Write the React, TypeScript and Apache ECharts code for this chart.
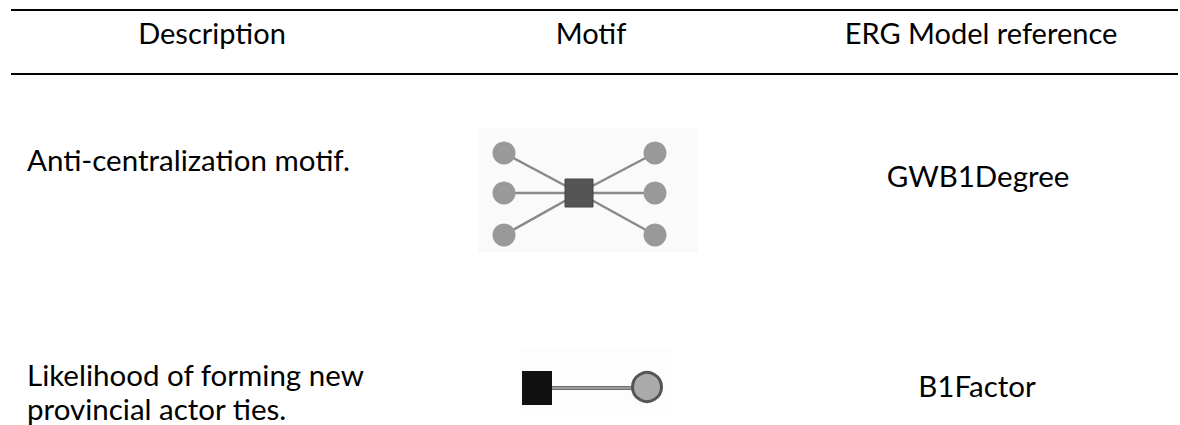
import React, { useEffect, useRef } from "react";
import * as echarts from "echarts";

const headers = ["Description", "Motif", "ERG Model reference"];
const descriptions = [["Anti-centralization motif."], ["Likelihood of forming new", "provincial actor ties."]];
const references = ["GWB1Degree", "B1Factor"];
const starLeavesPerSide = [3, 3];

const FONT = "Lato";
const FS = 29.5;

export default function App() {
  const ref = useRef<HTMLDivElement>(null);
  useEffect(() => {
    if (!ref.current) return;
    const chart = echarts.init(ref.current, null, { renderer: "svg" });
    const g: any[] = [];
    const txt = (x: number, y: number, text: string, align: string, fs = FS) => ({
      type: "text",
      x,
      y,
      style: { text, fill: "#000", font: `${fs}px ${FONT}`, align, verticalAlign: "middle" },
    });
    // rules
    [10, 74].forEach((y) =>
      g.push({ type: "line", shape: { x1: 11, y1: y, x2: 1178, y2: y }, style: { stroke: "#000", lineWidth: 2 } })
    );
    const headX = [212, 591, 981];
    headers.forEach((h, i) => g.push(txt(headX[i], 32, h, "center", 29)));
    // row descriptions
    const descY = [[159], [374, 408]];
    descriptions.forEach((lines, r) => lines.forEach((l, k) => g.push(txt(27, descY[r][k], l, "left"))));
    const refPos = [[978, 175], [977, 385]];
    references.forEach((t, i) => g.push(txt(refPos[i][0], refPos[i][1], t, "center")));

    // motif 1: star
    g.push({ type: "rect", shape: { x: 478, y: 128, width: 220, height: 124 }, style: { fill: "#fafafa" } });
    const cx = 579, cy = 193;
    const ys = [153, 193, 235];
    const xs = [504, 655];
    const leaves: [number, number][] = [];
    starLeavesPerSide.forEach((n, side) => {
      for (let k = 0; k < n; k++) leaves.push([xs[side], ys[k]]);
    });
    leaves.forEach(([x, y]) =>
      g.push({ type: "line", shape: { x1: cx, y1: cy, x2: x, y2: y }, style: { stroke: "#8a8a8a", lineWidth: 2.5 } })
    );
    leaves.forEach(([x, y]) =>
      g.push({ type: "circle", shape: { cx: x, cy: y, r: 11.5 }, style: { fill: "#999" } })
    );
    g.push({ type: "rect", shape: { x: cx - 14, y: cy - 14, width: 28, height: 28 }, style: { fill: "#555", stroke: "#444", lineWidth: 1 } });

    // motif 2: dyad
    g.push({ type: "rect", shape: { x: 520, y: 348, width: 152, height: 62 }, style: { fill: "#fdfdfd" } });
    g.push({ type: "line", shape: { x1: 552, y1: 388, x2: 634, y2: 388 }, style: { stroke: "#6f6f6f", lineWidth: 4 } });
    g.push({ type: "line", shape: { x1: 552, y1: 388, x2: 634, y2: 388 }, style: { stroke: "#c8c8c8", lineWidth: 1.2 } });
    g.push({ type: "rect", shape: { x: 522, y: 371, width: 30, height: 34 }, style: { fill: "#111" } });
    g.push({ type: "circle", shape: { cx: 647, cy: 387, r: 14.5 }, style: { fill: "#aaa", stroke: "#555", lineWidth: 3 } });

    chart.setOption({ animation: false, backgroundColor: "#fff", graphic: { elements: g } });
    return () => chart.dispose();
  }, []);
  return <div ref={ref} style={{ position: "fixed", left: 0, top: 0, width: 1180, height: 425 }} />;
}
